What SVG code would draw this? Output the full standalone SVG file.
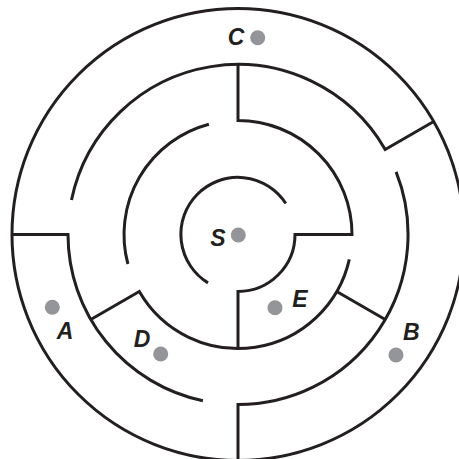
<svg xmlns="http://www.w3.org/2000/svg" width="459" height="459" viewBox="0 0 459 459">
<style>
.w{fill:none;stroke:#231f20;stroke-width:3;stroke-linecap:butt;stroke-linejoin:miter}
.dot{fill:#939598}
.lbl{font-family:"Liberation Sans",Arial,sans-serif;font-weight:bold;font-style:italic;font-size:23px;fill:#231f20;text-anchor:middle}
</style>
<rect width="459" height="459" fill="#ffffff"/>
<g id="walls">
<circle class="w" cx="238" cy="234.5" r="226"/>
<path class="w" d="M238,460.5 L238,404.5 A170,170 0 0 0 396.1,171.9"/>
<path class="w" d="M433.7,121.5 L385.2,149.5 A170,170 0 0 0 71.5,200"/>
<path class="w" d="M12,234.5 L68,234.5 A170,170 0 0 0 202.9,400.8"/>
<path class="w" d="M238,64.5 L238,120.5 A114,114 0 0 1 352,234.5 L295,234.5 A57,57 0 0 1 238,291.5 L238,348.5"/>
<path class="w" d="M90.8,319.5 L139.3,291.5 A114,114 0 0 0 349.3,259.4"/>
<path class="w" d="M336.7,291.5 L385.2,319.5"/>
<path class="w" d="M208.9,124.3 A114,114 0 0 0 127.9,264"/>
<path class="w" d="M285.8,203.5 A57,57 0 1 0 208,282.9"/>
</g>
<g id="S"><circle class="dot" cx="238.3" cy="235" r="7.5"/><text class="lbl" x="218" y="246">S</text></g>
<g id="C"><circle class="dot" cx="257.7" cy="37.7" r="7.5"/><text class="lbl" x="236" y="45">C</text></g>
<g id="A"><circle class="dot" cx="52.3" cy="307.3" r="7.5"/><text class="lbl" x="65" y="339.3">A</text></g>
<g id="D"><circle class="dot" cx="160.7" cy="354" r="7.5"/><text class="lbl" x="142" y="347.3">D</text></g>
<g id="E"><circle class="dot" cx="275" cy="307.7" r="7.5"/><text class="lbl" x="300" y="306.7">E</text></g>
<g id="B"><circle class="dot" cx="396" cy="355" r="7.5"/><text class="lbl" x="411.4" y="340">B</text></g>
</svg>
